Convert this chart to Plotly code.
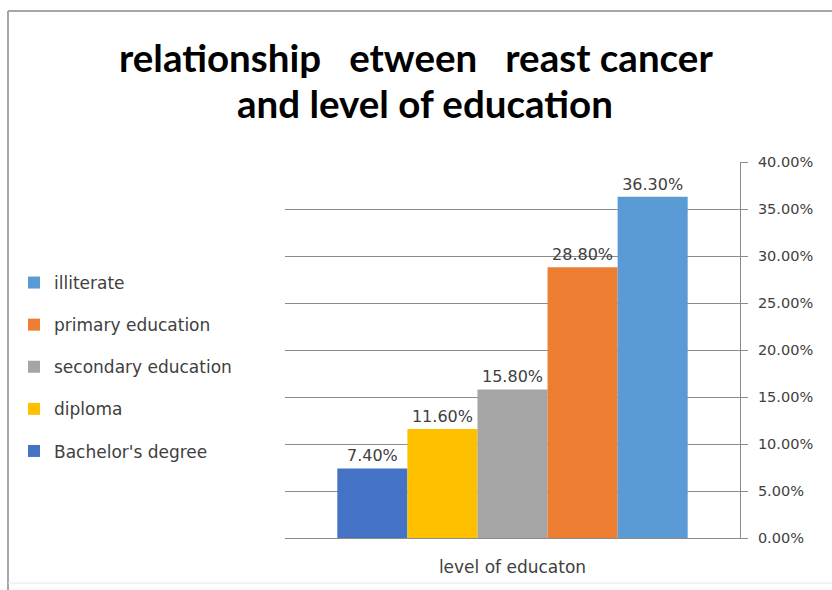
import plotly.graph_objects as go

# ---- data ----
series_names = ["Bachelor's degree", "diploma", "secondary education", "primary education", "illiterate"]
series_values = [0.074, 0.116, 0.158, 0.288, 0.363]
series_colors = ["#4472C4", "#FFC000", "#A5A5A5", "#ED7D31", "#5B9BD5"]
category = ["level of educaton"]
title_line1 = "relationship\u00a0\u00a0\u00a0etween\u00a0\u00a0\u00a0reast cancer"
title_line2 = "and level of education"
x_title = "level of educaton"

W, H = 832, 590
L, R, T, B = 285, 92, 162, 52
PW, PH = W - L - R, H - T - B


def fx(px):
    return (px - L) / PW


def fy(py):
    return 1 - (py - T) / PH


TFONT = "Lato, 'Open Sans', sans-serif"
FONT = "'DejaVu Sans', Verdana, sans-serif"

fig = go.Figure()
n_series = len(series_names)
for i, (n, v, c) in enumerate(zip(series_names, series_values, series_colors)):
    fig.add_trace(go.Bar(
        name=n, x=category, y=[v], marker_color=c, marker_line_width=0,
        texttemplate="%{y:.2%}", textposition="outside", cliponaxis=False,
        textfont=dict(size=16, color="#404040", family=FONT),
        legendgroup=f"g{i}", legendrank=n_series - i,
    ))

fig.update_layout(
    width=W, height=H,
    margin=dict(l=L, r=R, t=T, b=B),
    paper_bgcolor="white", plot_bgcolor="white",
    barmode="group", bargap=0.23, bargroupgap=0,
    font=dict(family=FONT, color="#595959"),
    showlegend=True,
    legend=dict(
        x=fx(14), xanchor="left", y=fy(265), yanchor="top",
        traceorder="grouped", tracegroupgap=17,
        font=dict(size=17, color="#404040", family=FONT),
        bgcolor="rgba(0,0,0,0)",
    ),
    xaxis=dict(
        showticklabels=False, showgrid=False, zeroline=False,
        showline=True, linecolor="#8c8c8c", linewidth=1,
        title=dict(text=x_title, font=dict(size=17, color="#404040", family=FONT), standoff=23),
    ),
    yaxis=dict(
        side="right", range=[0, 0.40], dtick=0.05, tickformat=".2%",
        showgrid=True, gridcolor="#8c8c8c", gridwidth=1, zeroline=False,
        showline=True, linecolor="#8c8c8c", linewidth=1,
        ticks="outside", ticklen=7, tickcolor="#8c8c8c",
        ticklabelstandoff=7,
        tickfont=dict(size=14.5, color="#404040", family=FONT),
    ),
    annotations=[
        dict(text=f"<b>{title_line1}</b>", x=fx(416), y=fy(57), xref="paper", yref="paper",
             xanchor="center", yanchor="middle", showarrow=False,
             font=dict(size=38.5, color="#000000", family=TFONT)),
        dict(text=f"<b>{title_line2}</b>", x=fx(425), y=fy(103), xref="paper", yref="paper",
             xanchor="center", yanchor="middle", showarrow=False,
             font=dict(size=38.5, color="#000000", family=TFONT)),
    ],
    shapes=[
        dict(type="line", xref="paper", yref="paper", x0=fx(8), x1=fx(840), y0=fy(11), y1=fy(11),
             line=dict(color="#a6a6a6", width=2)),
        dict(type="line", xref="paper", yref="paper", x0=fx(8), x1=fx(8), y0=fy(11), y1=fy(600),
             line=dict(color="#a6a6a6", width=2)),
        dict(type="line", xref="paper", yref="paper", x0=fx(8), x1=fx(840), y0=fy(583), y1=fy(583),
             line=dict(color="#e6e6e6", width=1)),
    ],
)

fig.write_html("out.html")
